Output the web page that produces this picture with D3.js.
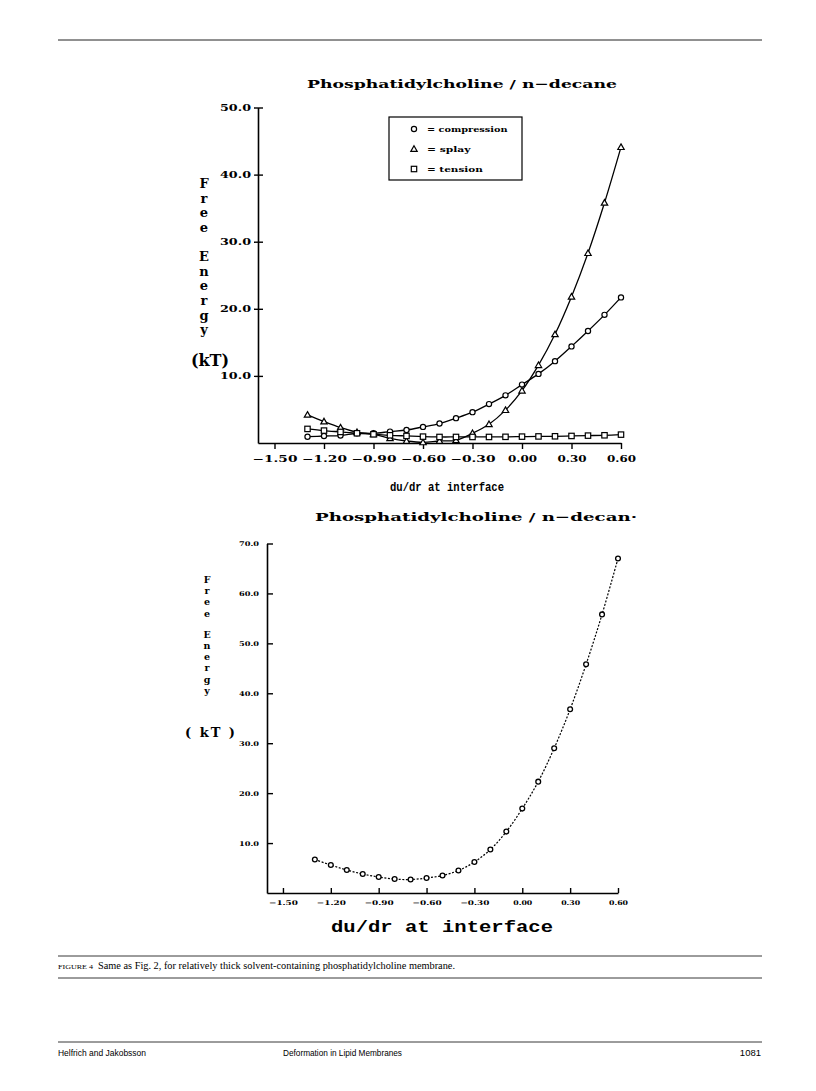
<!DOCTYPE html>
<html><head><meta charset="utf-8">
<script src="https://cdn.jsdelivr.net/npm/d3@7/dist/d3.min.js"></script>
<style>
body{margin:0;background:#fff;}
svg{display:block;}
</style></head>
<body>
<svg id="page" width="816" height="1091"></svg>
<script>
// ---------- data ----------
const xValues = [-1.3,-1.2,-1.1,-1.0,-0.9,-0.8,-0.7,-0.6,-0.5,-0.4,-0.3,-0.2,-0.1,0.0,0.1,0.2,0.3,0.4,0.5,0.6];
const compression = [0.94,1.04,1.1,1.45,1.45,1.7,1.94,2.4,2.9,3.7,4.6,5.8,7.1,8.7,10.3,12.2,14.4,16.7,19.1,21.7];
const splay       = [4.2,3.2,2.3,1.6,1.3,0.7,0.3,0.1,0.3,0.4,1.45,2.8,4.9,7.8,11.6,16.2,21.8,28.3,35.8,44.1];
const tension     = [2.1,1.85,1.65,1.45,1.3,1.15,1.05,0.95,0.9,0.9,0.9,0.9,0.92,0.95,0.98,1.0,1.05,1.1,1.15,1.25];
const totalEnergy = [6.7,5.6,4.6,3.8,3.2,2.8,2.7,3.0,3.5,4.5,6.2,8.7,12.3,16.9,22.3,29.0,36.8,45.8,55.8,67.0];
const xTicks = [-1.5,-1.2,-0.9,-0.6,-0.3,0.0,0.3,0.6];
const yTicksTop = [10,20,30,40,50];
const yTicksBottom = [10,20,30,40,50,60,70];
const legendLabels = ["= compression","= splay","= tension"];
const titleText = "Phosphatidylcholine / n\u2212decane";
const titleText2 = "Phosphatidylcholine / n\u2212decan\u00b7";
const yLabelWords = ["Free","Energy"];
const xLabelText = "du/dr at interface";
const captionHead = "FIGURE 4";
const captionText = "Same as Fig. 2, for relatively thick solvent-containing phosphatidylcholine membrane.";
const footer = ["Helfrich and Jakobsson","Deformation in Lipid Membranes","1081"];

const svg = d3.select("#page");
const fmtX = d => (d < 0 ? "\u2212" : "") + Math.abs(d).toFixed(2);
const fmtY = d => d.toFixed(1);
const plotFont = "'DejaVu Serif', serif";
const monoFont = "'Liberation Mono', 'Courier New', monospace";

// page rules
function hrule(y, w){ svg.append("line").attr("x1",58).attr("x2",762).attr("y1",y).attr("y2",y).attr("stroke","#222").attr("stroke-width",w); }
hrule(40,1); hrule(956,0.9); hrule(978,0.9); hrule(1042,0.9);

// ================= TOP CHART =================
const xT = d3.scaleLinear().domain([-1.6,0.6]).range([258,621]);
const yT = d3.scaleLinear().domain([0,50]).range([443,107.5]);

svg.append("text").attr("x",307).attr("y",88).attr("textLength",310).attr("lengthAdjust","spacingAndGlyphs")
  .style("font-family",plotFont).style("font-weight","bold").style("font-size","11.5px").text(titleText);

const gxT = svg.append("g").attr("transform","translate(0,443)")
  .call(d3.axisBottom(xT).tickValues(xTicks).tickSizeInner(6).tickSizeOuter(0).tickPadding(7).tickFormat(fmtX));
gxT.select(".domain").attr("stroke","#000").attr("stroke-width",1.6);
gxT.selectAll(".tick line").attr("stroke","#000").attr("stroke-width",1.4);
gxT.selectAll(".tick text").style("font-family",plotFont).style("font-weight","bold").style("font-size","8.5px")
  .attr("fill","#000").attr("textLength",d=> d<0?45:29).attr("lengthAdjust","spacingAndGlyphs");

const gyT = svg.append("g").attr("transform","translate(258,0)")
  .call(d3.axisLeft(yT).tickValues(yTicksTop).tickSizeInner(4).tickSizeOuter(0).tickPadding(3).tickFormat(fmtY));
gyT.select(".domain").attr("stroke","#000").attr("stroke-width",1.6);
gyT.selectAll(".tick line").attr("x1",-4).attr("x2",5).attr("stroke","#000").attr("stroke-width",1.4);
gyT.selectAll(".tick text").style("font-family",plotFont).style("font-weight","bold").style("font-size","8.5px")
  .attr("fill","#000").attr("textLength",31).attr("lengthAdjust","spacingAndGlyphs");

// vertical y label
function verticalLabel(x, yStart, step, gap, size){
  let y = yStart;
  yLabelWords.forEach(w=>{
    w.split("").forEach(ch=>{
      svg.append("text").attr("x",x).attr("y",y).attr("text-anchor","middle")
        .style("font-family",plotFont).style("font-weight","bold").style("font-size",size+"px").text(ch);
      y += step;
    });
    y += gap;
  });
}
verticalLabel(204,188,14.7,14,13);
svg.append("text").attr("x",210).attr("y",366).attr("text-anchor","middle")
  .style("font-family",plotFont).style("font-weight","bold").style("font-size","16px").text("(kT)");

svg.append("text").attr("x",447).attr("y",491).attr("text-anchor","middle")
  .attr("textLength",114).attr("lengthAdjust","spacingAndGlyphs")
  .style("font-family",monoFont).style("font-weight","bold").style("font-size","12.5px").text(xLabelText);

const lineT = d3.line().x((d,i)=>xT(xValues[i])).y(d=>yT(d)).curve(d3.curveCatmullRom);
[compression, splay, tension].forEach(s=>{
  svg.append("path").datum(s).attr("d",lineT).attr("fill","none").attr("stroke","#000").attr("stroke-width",1.3);
});

function marker(g, type, cx, cy){
  if(type==="circle") g.append("circle").attr("cx",cx).attr("cy",cy).attr("r",2.6);
  else if(type==="triangle") g.append("path").attr("d",`M${cx},${cy-3.2}L${cx+3.2},${cy+2.4}L${cx-3.2},${cy+2.4}Z`);
  else g.append("rect").attr("x",cx-2.7).attr("y",cy-2.7).attr("width",5.4).attr("height",5.4);
}
const types = ["circle","triangle","square"];
[compression, splay, tension].forEach((s,si)=>{
  const g = svg.append("g").attr("fill","#fff").attr("stroke","#000").attr("stroke-width",1.2);
  s.forEach((v,i)=>marker(g, types[si], xT(xValues[i]), yT(v)));
});

// legend
svg.append("rect").attr("x",389).attr("y",117).attr("width",133).attr("height",63)
  .attr("fill","#fff").attr("stroke","#000").attr("stroke-width",1.2);
legendLabels.forEach((lab,i)=>{
  const y = 129 + i*20;
  const g = svg.append("g").attr("fill","#fff").attr("stroke","#000").attr("stroke-width",1.2);
  marker(g, types[i], 414, y);
  svg.append("text").attr("x",427).attr("y",y+3).attr("textLength",lab.length*6.2).attr("lengthAdjust","spacingAndGlyphs")
    .style("font-family",plotFont).style("font-weight","bold").style("font-size","8px").text(lab);
});

// ================= BOTTOM CHART =================
const xB = d3.scaleLinear().domain([-1.6,0.6]).range([267,618]);
const yB = d3.scaleLinear().domain([0,70]).range([893,543.5]);

svg.append("text").attr("x",315).attr("y",521).attr("textLength",322).attr("lengthAdjust","spacingAndGlyphs")
  .style("font-family",plotFont).style("font-weight","bold").style("font-size","11.5px").text(titleText2);

const gxB = svg.append("g").attr("transform","translate(0,893)")
  .call(d3.axisBottom(xB).tickValues(xTicks).tickSizeInner(-5).tickSizeOuter(0).tickPadding(7).tickFormat(fmtX));
gxB.select(".domain").attr("stroke","#000").attr("stroke-width",1.6);
gxB.selectAll(".tick line").attr("stroke","#000").attr("stroke-width",1.4);
gxB.selectAll(".tick text").style("font-family",plotFont).style("font-weight","bold").style("font-size","6.5px")
  .attr("fill","#000").attr("textLength",d=> d<0?29:19).attr("lengthAdjust","spacingAndGlyphs");

const gyB = svg.append("g").attr("transform","translate(267,0)")
  .call(d3.axisLeft(yB).tickValues(yTicksBottom).tickSizeInner(-6).tickSizeOuter(0).tickPadding(8).tickFormat(fmtY));
gyB.select(".domain").attr("stroke","#000").attr("stroke-width",1.6);
gyB.selectAll(".tick line").attr("stroke","#000").attr("stroke-width",1.4);
gyB.selectAll(".tick text").style("font-family",plotFont).style("font-weight","bold").style("font-size","6.5px")
  .attr("fill","#000").attr("textLength",20).attr("lengthAdjust","spacingAndGlyphs");

verticalLabel(207,583,11.2,10,9.5);
svg.append("text").attr("x",210).attr("y",737).attr("text-anchor","middle").attr("textLength",50).attr("lengthAdjust","spacing")
  .style("font-family",plotFont).style("font-weight","bold").style("font-size","13px").text("( kT )");

svg.append("text").attr("x",442).attr("y",932).attr("text-anchor","middle")
  .attr("textLength",222).attr("lengthAdjust","spacingAndGlyphs")
  .style("font-family",monoFont).style("font-weight","bold").style("font-size","16px").text(xLabelText);

const lineB = d3.line().x((d,i)=>xB(xValues[i])).y(d=>yB(d)).curve(d3.curveCatmullRom);
svg.append("path").datum(totalEnergy).attr("d",lineB).attr("fill","none").attr("stroke","#000")
  .attr("stroke-width",1.2).attr("stroke-dasharray","2,1.6");
const gB = svg.append("g").attr("fill","#fff").attr("stroke","#000").attr("stroke-width",1.3);
totalEnergy.forEach((v,i)=>gB.append("circle").attr("cx",xB(xValues[i])).attr("cy",yB(v)).attr("r",2.4));

// ================= CAPTION / FOOTER =================
svg.append("text").attr("x",58).attr("y",969).attr("textLength",35).attr("lengthAdjust","spacingAndGlyphs")
  .style("font-family","'Liberation Serif', serif").style("font-size","7px").text(captionHead);
svg.append("text").attr("x",98).attr("y",969).attr("textLength",357).attr("lengthAdjust","spacingAndGlyphs")
  .style("font-family","'Liberation Serif', serif").style("font-size","10px").text(captionText);

const fStyle = t => t.style("font-family","'Liberation Sans', Arial, sans-serif").style("font-size","9.5px");
fStyle(svg.append("text").attr("x",58).attr("y",1056).attr("textLength",88).attr("lengthAdjust","spacingAndGlyphs").text(footer[0]));
fStyle(svg.append("text").attr("x",283).attr("y",1056).attr("textLength",119).attr("lengthAdjust","spacingAndGlyphs").text(footer[1]));
fStyle(svg.append("text").attr("x",761).attr("y",1056).attr("text-anchor","end").text(footer[2]));
</script>
</body></html>
